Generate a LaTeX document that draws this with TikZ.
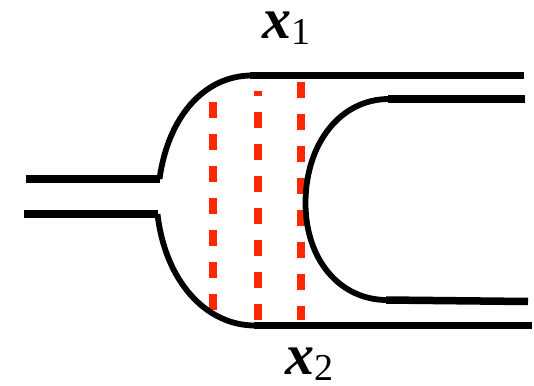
\documentclass[tikz,border=0pt]{standalone}
\usepackage{fontspec}
\setmainfont{Liberation Serif}
\definecolor{dashred}{RGB}{255,40,0}
\tikzset{
  wall/.style={line width=7.5pt, black},
  curve/.style={line width=5.8pt, black},
  probe/.style={line width=8pt, dashred, dash pattern=on 16pt off 16pt},
  lbl/.style={anchor=base west, inner sep=0pt, font=\fontsize{58}{58}\selectfont}
}
\newcommand{\sublbl}[1]{\raisebox{-6pt}{\fontsize{38}{38}\selectfont #1}}
\begin{document}
\begin{tikzpicture}[x=1pt,y=-1pt]
\useasboundingbox (0,0) rectangle (534,385);
% key points
\coordinate (inA) at (26,179);
\coordinate (inAe) at (160,179);
\coordinate (inB) at (24,214);
\coordinate (inBe) at (158,214);
\coordinate (tS) at (159.5,179);
\coordinate (tE) at (251,75.5);
\coordinate (tR) at (524,75.5);
\coordinate (bS) at (157.5,214);
\coordinate (bE) at (255,325.5);
\coordinate (bR) at (532,325.5);
\coordinate (uT) at (389,99);
\coordinate (uTR) at (525,99);
\coordinate (uL) at (305.5,203);
\coordinate (uB) at (387,300);
\coordinate (uBR) at (528,301.5);
% red dashed lines
\coordinate (r1a) at (213,101.7);
\coordinate (r1b) at (213,310);
\coordinate (r2a) at (258,319.7);
\coordinate (r2b) at (258,91);
\coordinate (r3a) at (301,81.7);
\coordinate (r3b) at (301,320);
\draw[probe] (r1a) -- (r1b);
\draw[probe] (r2a) -- (r2b);
\draw[probe] (r3a) -- (r3b);
% inlet
\draw[wall] (inA) -- (inAe);
\draw[wall] (inB) -- (inBe);
% outer curves
\draw[curve] (tS) .. controls (168,117) and (204,76) .. (tE);
\draw[curve] (bS) .. controls (165,280) and (205,325.5) .. (bE);
\draw[wall] ([xshift=-1pt]tE) -- (tR);
\draw[wall] ([xshift=-1pt]bE) -- (bR);
% inner U
\draw[curve] (uT) .. controls (340,99) and (305.5,144) .. (uL)
  .. controls (305.5,260) and (340,300) .. (uB);
\draw[wall] ([xshift=-1pt]uT) -- (uTR);
\draw[wall] ([xshift=-1pt]uB) -- (uBR);
% labels
\node[lbl] (x1) at (262,39) {\textbf{\textit{x}}\sublbl{1}};
\node[lbl] (x2) at (285,374) {\textbf{\textit{x}}\sublbl{2}};
\end{tikzpicture}
\end{document}
